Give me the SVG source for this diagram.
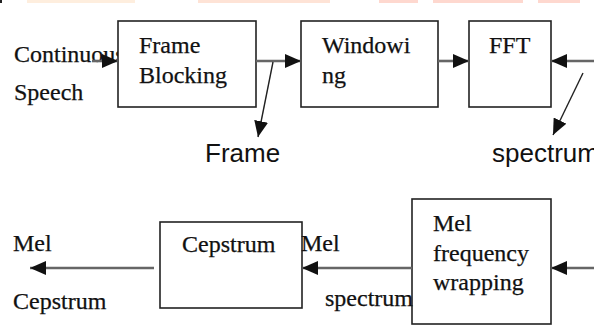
<svg xmlns="http://www.w3.org/2000/svg" width="594" height="327" viewBox="0 0 594 327">
  <style>
    .box { fill: #ffffff; stroke: #222222; stroke-width: 1.6; }
    .serif { font-family: "Liberation Serif", "Times New Roman", serif; font-size: 24px; fill: #111111; stroke: #111111; stroke-width: 0.25; }
    .sans { font-family: "Liberation Sans", Arial, sans-serif; font-size: 26px; fill: #111111; }
    .flow { stroke: #666666; stroke-width: 2.6; fill: none; }
    .tap { stroke: #222222; stroke-width: 1.4; fill: none; }
  </style>
  <defs>
    <marker id="head" markerWidth="16" markerHeight="14" refX="16" refY="7" orient="auto" markerUnits="userSpaceOnUse">
      <path d="M0,0 L16,7 L0,14 Z" fill="#111111"/>
    </marker>
  </defs>
  <rect width="594" height="327" fill="#ffffff"/>

  <!-- banner remnants along the top edge -->
  <g id="banner">
    <rect x="27" y="0" width="108" height="3" fill="#feeede"/>
    <rect x="198" y="0" width="132" height="3" fill="#fee3d6"/>
    <rect x="379" y="0" width="39" height="3" fill="#fed8cf"/>
    <rect x="433" y="0" width="90" height="3" fill="#fed8cf"/>
    <rect x="538" y="0" width="42" height="3" fill="#fed8cf"/>
    <rect x="0" y="0" width="2" height="3" fill="#222222"/>
  </g>

  <!-- free labels -->
  <g id="labels">
    <text class="serif" x="14" y="62">Continuous</text>
    <text class="serif" x="14" y="100">Speech</text>
    <text class="sans" x="205" y="162">Frame</text>
    <text class="sans" x="492" y="162">spectrum</text>
    <text class="serif" x="13" y="251">Mel</text>
    <text class="serif" x="13" y="309">Cepstrum</text>
  </g>

  <g id="frame-blocking">
    <rect class="box" x="118" y="21" width="138" height="86"/>
    <text class="serif" x="139" y="53">Frame</text>
    <text class="serif" x="139" y="83">Blocking</text>
  </g>

  <g id="windowing">
    <rect class="box" x="301" y="21" width="137" height="86"/>
    <text class="serif" x="322" y="53">Windowi</text>
    <text class="serif" x="322" y="83">ng</text>
  </g>

  <g id="fft">
    <rect class="box" x="469" y="21" width="82" height="86"/>
    <text class="serif" x="489" y="53">FFT</text>
  </g>

  <g id="mel-wrapping">
    <rect class="box" x="412" y="199" width="139" height="125"/>
    <text class="serif" x="433" y="231">Mel</text>
    <text class="serif" x="433" y="261">frequency</text>
    <text class="serif" x="433" y="290">wrapping</text>
  </g>

  <g id="cepstrum">
    <rect class="box" x="160" y="222" width="142" height="86"/>
    <text class="serif" x="182" y="252">Cepstrum</text>
  </g>

  <g id="connectors">
    <line class="flow" x1="92" y1="61" x2="118" y2="61" marker-end="url(#head)"/>
    <line class="flow" x1="256" y1="61" x2="301" y2="61" marker-end="url(#head)"/>
    <line class="flow" x1="438" y1="61" x2="469" y2="61" marker-end="url(#head)"/>
    <line class="flow" x1="594" y1="61" x2="551" y2="61" marker-end="url(#head)"/>
    <line class="tap" x1="273" y1="62" x2="258" y2="137" marker-end="url(#head)"/>
    <line class="tap" x1="583" y1="73" x2="553" y2="135" marker-end="url(#head)"/>
    <line class="flow" x1="594" y1="268" x2="551" y2="268" marker-end="url(#head)"/>
    <line class="flow" x1="412" y1="268" x2="302" y2="268" marker-end="url(#head)"/>
    <line class="flow" x1="154" y1="268" x2="30" y2="268" marker-end="url(#head)"/>
  </g>

  <!-- labels that sit over box edges -->
  <g id="edge-labels">
    <text class="serif" x="301" y="251">Mel</text>
    <text class="serif" x="325" y="306">spectrum</text>
  </g>
</svg>
